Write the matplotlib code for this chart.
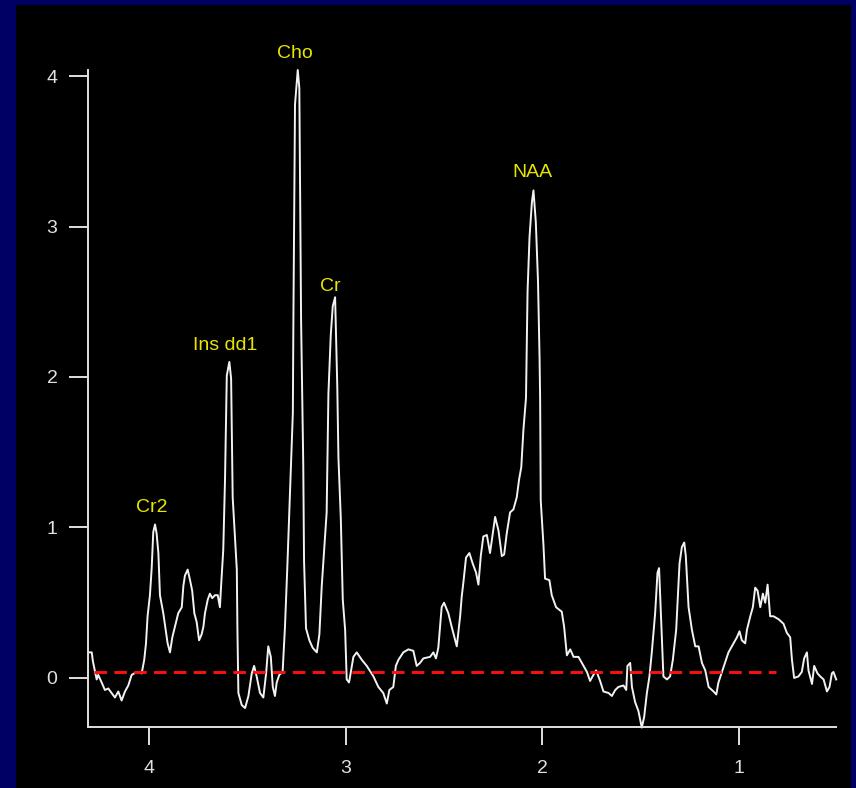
import matplotlib
matplotlib.use("Agg")
import matplotlib.pyplot as plt
from matplotlib.patches import Rectangle

# chemical shift (ppm) and intensity
ppm = [4.309, 4.291, 4.285, 4.266, 4.258, 4.244, 4.224, 4.207, 4.190, 4.173,
       4.156, 4.139, 4.122, 4.105, 4.088, 4.062, 4.037, 4.024, 4.015, 4.007,
       3.995, 3.986, 3.978, 3.969, 3.961, 3.952, 3.944, 3.927, 3.918, 3.905,
       3.893, 3.881, 3.868, 3.851, 3.833, 3.825, 3.817, 3.803, 3.791, 3.780,
       3.769, 3.757, 3.745, 3.732, 3.723, 3.715, 3.701, 3.690, 3.678, 3.664,
       3.650, 3.639, 3.633, 3.622, 3.613, 3.604, 3.591, 3.582, 3.574, 3.553,
       3.550, 3.545, 3.528, 3.511, 3.494, 3.477, 3.465, 3.452, 3.435, 3.418,
       3.404, 3.393, 3.380, 3.370, 3.359, 3.350, 3.337, 3.320, 3.308, 3.296,
       3.282, 3.268, 3.265, 3.257, 3.243, 3.235, 3.226, 3.215, 3.211, 3.201,
       3.184, 3.167, 3.146, 3.133, 3.121, 3.109, 3.096, 3.087, 3.075, 3.065,
       3.053, 3.042, 3.036, 3.024, 3.014, 3.002, 2.994, 2.982, 2.973, 2.960,
       2.943, 2.917, 2.892, 2.858, 2.833, 2.808, 2.790, 2.777, 2.757, 2.744,
       2.731, 2.706, 2.680, 2.655, 2.638, 2.621, 2.604, 2.570, 2.553, 2.540,
       2.528, 2.511, 2.499, 2.477, 2.460, 2.434, 2.417, 2.409, 2.400, 2.387,
       2.370, 2.353, 2.336, 2.324, 2.312, 2.299, 2.281, 2.265, 2.251, 2.239,
       2.222, 2.205, 2.193, 2.180, 2.163, 2.146, 2.129, 2.117, 2.106, 2.095,
       2.082, 2.074, 2.064, 2.052, 2.044, 2.032, 2.021, 2.013, 2.010, 2.007,
       1.993, 1.985, 1.963, 1.951, 1.929, 1.900, 1.888, 1.874, 1.857, 1.840,
       1.815, 1.798, 1.772, 1.756, 1.739, 1.725, 1.705, 1.688, 1.662, 1.645,
       1.628, 1.612, 1.586, 1.572, 1.566, 1.552, 1.543, 1.527, 1.510, 1.493,
       1.481, 1.467, 1.454, 1.442, 1.425, 1.413, 1.405, 1.396, 1.383, 1.365,
       1.349, 1.335, 1.318, 1.301, 1.289, 1.277, 1.269, 1.255, 1.238, 1.221,
       1.204, 1.187, 1.170, 1.153, 1.128, 1.114, 1.103, 1.085, 1.069, 1.052,
       1.035, 1.009, 0.996, 0.984, 0.967, 0.958, 0.941, 0.928, 0.916, 0.904,
       0.890, 0.877, 0.865, 0.853, 0.840, 0.823, 0.797, 0.772, 0.755, 0.738,
       0.729, 0.718, 0.696, 0.679, 0.667, 0.653, 0.645, 0.627, 0.616, 0.599,
       0.585, 0.568, 0.551, 0.538, 0.526, 0.518, 0.504]
signal = [0.17, 0.17, 0.11, -0.01, 0.02, -0.02, -0.08, -0.07, -0.10, -0.13,
          -0.09, -0.15, -0.09, -0.05, 0.02, 0.04, 0.03, 0.12, 0.23, 0.41,
          0.55, 0.73, 0.97, 1.02, 0.96, 0.83, 0.55, 0.43, 0.35, 0.23,
          0.17, 0.27, 0.34, 0.43, 0.47, 0.61, 0.68, 0.72, 0.65, 0.58,
          0.43, 0.37, 0.25, 0.29, 0.34, 0.43, 0.52, 0.56, 0.53, 0.55,
          0.55, 0.47, 0.61, 0.85, 1.32, 2.01, 2.10, 1.99, 1.20, 0.72,
          0.33, -0.10, -0.18, -0.20, -0.12, 0.03, 0.08, 0.01, -0.10, -0.13,
          0.03, 0.21, 0.14, -0.06, -0.12, -0.03, 0.02, 0.04, 0.34, 0.74,
          1.25, 1.76, 2.41, 3.81, 4.04, 3.92, 2.37, 1.42, 0.78, 0.33,
          0.25, 0.20, 0.17, 0.29, 0.61, 0.84, 1.10, 1.89, 2.28, 2.47,
          2.53, 1.94, 1.46, 1.06, 0.52, 0.32, -0.01, -0.03, 0.04, 0.14,
          0.17, 0.12, 0.08, 0.01, -0.06, -0.10, -0.17, -0.08, -0.06, 0.08,
          0.12, 0.17, 0.19, 0.18, 0.08, 0.10, 0.13, 0.14, 0.17, 0.13,
          0.20, 0.47, 0.50, 0.43, 0.34, 0.21, 0.41, 0.54, 0.64, 0.80,
          0.83, 0.76, 0.70, 0.62, 0.81, 0.94, 0.95, 0.83, 0.96, 1.07,
          0.98, 0.81, 0.82, 0.96, 1.10, 1.12, 1.20, 1.32, 1.40, 1.65,
          1.86, 2.57, 2.93, 3.16, 3.24, 3.03, 2.64, 2.13, 1.85, 1.18,
          0.88, 0.66, 0.65, 0.55, 0.47, 0.44, 0.34, 0.15, 0.19, 0.14,
          0.14, 0.10, 0.04, -0.02, 0.02, 0.05, -0.02, -0.09, -0.10, -0.12,
          -0.08, -0.06, -0.05, -0.08, 0.08, 0.10, -0.06, -0.16, -0.22, -0.33,
          -0.26, -0.10, 0.01, 0.17, 0.43, 0.70, 0.73, 0.43, 0.01, -0.01,
          0.01, 0.12, 0.32, 0.76, 0.87, 0.90, 0.81, 0.47, 0.32, 0.21,
          0.21, 0.10, 0.05, -0.06, -0.09, -0.11, -0.03, 0.04, 0.10, 0.17,
          0.21, 0.27, 0.31, 0.25, 0.23, 0.32, 0.41, 0.47, 0.60, 0.58,
          0.47, 0.56, 0.50, 0.62, 0.41, 0.41, 0.39, 0.36, 0.30, 0.27,
          0.12, 0.00, 0.01, 0.04, 0.13, 0.17, 0.05, -0.04, 0.08, 0.03,
          0.01, -0.01, -0.09, -0.06, 0.03, 0.04, -0.01]

baseline_level = 0.042
baseline_range = [4.28, 0.81]

peak_names = ["Cr2", "Ins dd1", "Cho", "Cr", "NAA"]
peak_ppm = [3.985, 3.613, 3.257, 3.079, 2.051]
peak_label_y = [1.13, 2.21, 4.15, 2.60, 3.36]

x_ticks = [4, 3, 2, 1]
y_ticks = [0, 1, 2, 3, 4]

fig = plt.figure(figsize=(8.56, 7.88), dpi=100, facecolor="#000064")
fig.patches.append(Rectangle((16 / 856, 0), (851 - 16) / 856, 783 / 788,
                             transform=fig.transFigure, facecolor="black",
                             edgecolor="none", zorder=-10))

ax = fig.add_axes([88 / 856, 1 - 727 / 788, (836 - 88) / 856, (727 - 70) / 788])
ax.set_facecolor("black")
ax.set_zorder(5)

ax.plot(ppm, signal, color="#f2f2f2", lw=1.4, clip_on=False)
ax.plot(baseline_range, [baseline_level, baseline_level], color="#ff1010",
        lw=2.1, dashes=(4.3, 2.5))

for name, xp, yp in zip(peak_names, peak_ppm, peak_label_y):
    ax.text(xp, yp, name, color="#e6e600", fontsize=14, ha="center",
            va="center", family=["Liberation Sans", "DejaVu Sans"])

ax.set_xlim(4.31, 0.505)
ax.set_ylim(-0.326, 4.04)
ax.set_xticks(x_ticks)
ax.set_yticks(y_ticks)

for side in ["top", "right"]:
    ax.spines[side].set_visible(False)
for side in ["left", "bottom"]:
    ax.spines[side].set_color("#e0e0e0")
    ax.spines[side].set_linewidth(1.4)

ax.tick_params(axis="y", colors="#e0e0e0", length=14, width=1.4, pad=8,
               labelsize=14)
ax.tick_params(axis="x", colors="#e0e0e0", length=13, width=1.4, pad=11,
               labelsize=14)
for lab in ax.get_xticklabels() + ax.get_yticklabels():
    lab.set_family(["Liberation Sans", "DejaVu Sans"])

fig.savefig("out.png", dpi=100, facecolor=fig.get_facecolor())
